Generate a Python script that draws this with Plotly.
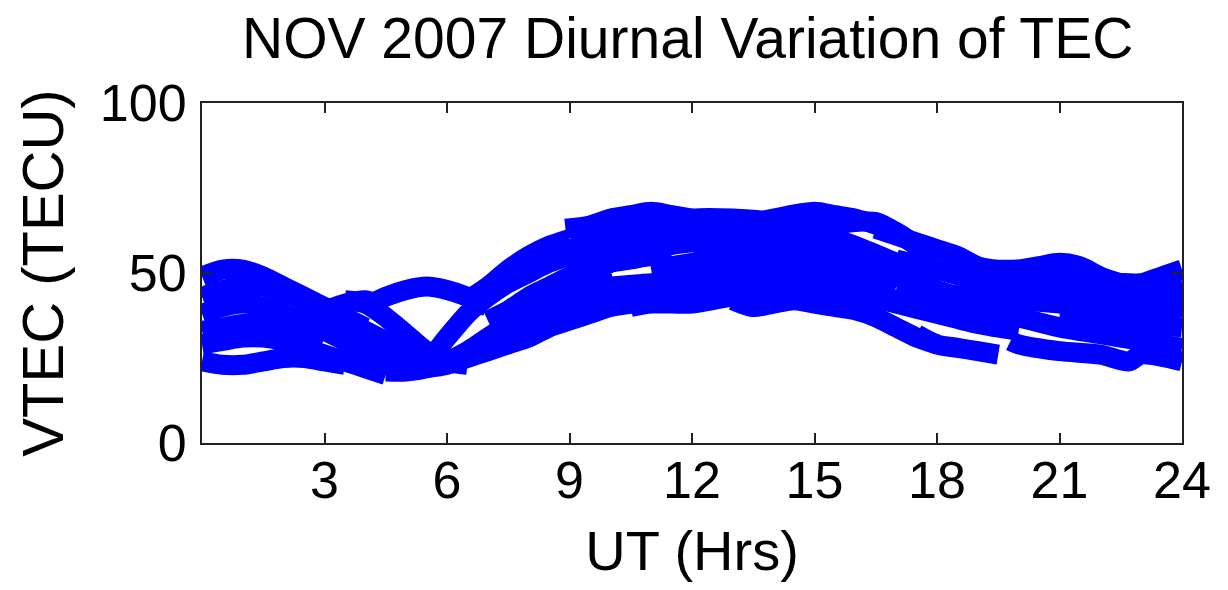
import plotly.graph_objects as go

# ---- data: satellite passes (UT hours, VTEC in TECU) ----
p01_h = [0, 0.5, 1, 1.5, 2, 2.5, 3, 3.5, 4]
p01_v = [49, 51, 51, 49, 46, 43, 40, 37, 34]
p02_h = [0, 0.5, 1, 1.5, 2, 2.5, 3, 3.5, 4, 4.5, 5, 5.5]
p02_v = [43, 45, 46, 46, 44, 42, 39, 36, 33, 30, 27, 24]
p03_h = [0, 0.5, 1, 1.5, 2, 2.5, 3, 3.5, 4, 4.5, 5]
p03_v = [38, 40, 41, 40, 38, 36, 33, 30, 27, 24, 21]
p04_h = [0, 0.5, 1, 1.5, 2, 2.5, 3, 3.5, 4, 4.5]
p04_v = [29, 30, 31, 31, 30, 28, 26, 24, 22, 20]
p05_h = [0, 0.5, 1, 1.5, 2, 2.5, 3, 3.5]
p05_v = [24, 23, 23, 24, 25, 25, 24, 23]
p06_h = [1.5, 2, 2.5, 3, 3.5, 4, 4.5]
p06_v = [31, 34, 37, 39, 41, 42, 40]
p07_h = [3.5, 4, 4.5, 5, 5.5, 6, 6.5]
p07_v = [42, 41, 37, 32, 27, 24, 23]
p08_h = [4, 4.5, 5, 5.5, 6, 6.5, 7]
p08_v = [40, 43, 45, 46, 45, 43, 40]
p09_h = [5, 5.5, 6, 6.5, 7, 7.5, 8, 8.5, 9, 9.5, 10]
p09_v = [21, 24, 31, 38, 43, 47, 50, 53, 55, 56, 57]
p10_h = [4.5, 5, 5.5, 6, 6.5, 7, 7.5, 8, 8.5, 9, 9.5, 10]
p10_v = [21, 21, 22, 24, 27, 31, 35, 39, 43, 46, 49, 51]
p11_h = [6.5, 7, 7.5, 8, 8.5, 9]
p11_v = [42, 46, 51, 55, 58, 60]
p12_h = [5.5, 6, 6.5, 7, 7.5, 8, 8.5, 9, 9.5, 10, 10.5, 11]
p12_v = [22, 23, 25, 27, 29, 31, 34, 36, 38, 40, 41, 42]
p13_h = [7, 7.5, 8, 8.5, 9, 9.5, 10, 10.5, 11, 11.5]
p13_v = [36, 39, 43, 46, 49, 51, 53, 54, 55, 55]
p14_h = [8.9, 9.5, 10, 10.5, 11, 11.5, 12, 13, 14]
p14_v = [63, 64, 66, 67, 68, 67, 66, 64, 60]
p15_h = [10, 11, 12, 13, 14, 15, 16, 17]
p15_v = [60, 64, 66, 66, 65, 62, 58, 53]
p16_h = [12, 13, 14, 15, 15.5, 16, 17, 17.5]
p16_v = [58, 63, 66, 68, 67, 66, 62, 58]
p17_h = [13, 14, 15, 16, 16.5, 17, 17.5, 18]
p17_v = [55, 60, 63, 65, 65, 62, 58, 54]
p18_h = [9.5, 10, 11, 12, 13, 14, 15]
p18_v = [50, 53, 57, 59, 59, 57, 53]
p19_h = [11, 12, 13, 14, 15, 16, 17, 18, 19]
p19_v = [51, 53, 55, 56, 55, 52, 49, 45, 41]
p20_h = [10.5, 11, 11.5, 12, 12.5, 13, 13.5, 14]
p20_v = [40, 41, 41, 41, 42, 43, 42, 41]
p21_h = [13, 13.5, 14, 14.5, 15, 15.5, 16, 16.5, 17, 17.5, 18]
p21_v = [42, 40, 41, 42, 41, 40, 39, 37, 34, 31, 29]
p22_h = [9, 10, 11, 12, 13, 14, 15, 16, 17]
p22_v = [44, 46, 47, 48, 48, 48, 47, 45, 42]
p23_h = [11, 12, 13, 14, 15, 16, 17]
p23_v = [46, 49, 51, 52, 51, 49, 46]
p24_h = [16.5, 17, 17.5, 18, 18.5, 19, 19.5, 20]
p24_v = [63, 61, 59, 57, 55, 52, 51, 51]
p25_h = [19.5, 20, 20.5, 21, 21.5, 22, 22.5]
p25_v = [50, 51, 52, 53, 52, 49, 47]
p26_h = [22, 22.5, 23, 23.5, 24]
p26_v = [46, 47, 47, 49, 51]
p27_h = [17, 18, 19, 20, 21, 22, 23, 24]
p27_v = [45, 44, 43, 42, 41, 40, 40, 40]
p28_h = [17.5, 18, 18.5, 19, 19.5]
p28_v = [32, 29, 28, 27, 26]
p29_h = [19.8, 20, 21, 22, 22.7, 23, 24]
p29_v = [30, 29, 27, 26, 24, 26, 24]
p30_h = [18, 19, 20, 21, 22, 23, 24]
p30_v = [44, 40, 37, 34, 32, 30, 28]
p31_h = [20, 21, 22, 23, 24]
p31_v = [45, 44, 43, 43, 45]
p32_h = [21, 22, 23, 24]
p32_v = [37, 36, 35, 34]
p33_h = [16, 17, 18, 19, 20]
p33_v = [44, 41, 38, 35, 33]
p34_h = [9, 10, 11, 12, 13, 14, 15, 16, 17]
p34_v = [52, 56, 60, 62, 62, 61, 59, 56, 52]
p35_h = [10, 11, 12, 13, 14, 15, 16]
p35_v = [42, 44, 45, 45, 45, 44, 43]
p36_h = [17, 18, 19, 20, 21]
p36_v = [54, 51, 48, 47, 48]
p37_h = [19, 20, 21, 22, 23, 24]
p37_v = [48, 49, 49, 48, 46, 47]
p38_h = [7.5, 8, 8.5, 9, 9.5, 10, 10.5]
p38_v = [33, 35, 37, 40, 42, 44, 45]
p39_h = [0, 0.5, 1, 1.5, 2, 2.5, 3]
p39_v = [33, 34, 35, 35, 34, 33, 31]
p40_h = [9, 9.5, 10, 10.5, 11, 11.5, 12]
p40_v = [57, 59, 61, 63, 63, 63, 62]

passes = [
    (p01_h, p01_v), (p02_h, p02_v), (p03_h, p03_v), (p04_h, p04_v), (p05_h, p05_v),
    (p06_h, p06_v), (p07_h, p07_v), (p08_h, p08_v), (p09_h, p09_v), (p10_h, p10_v),
    (p11_h, p11_v), (p12_h, p12_v), (p13_h, p13_v), (p14_h, p14_v), (p15_h, p15_v),
    (p16_h, p16_v), (p17_h, p17_v), (p18_h, p18_v), (p19_h, p19_v), (p20_h, p20_v),
    (p21_h, p21_v), (p22_h, p22_v), (p23_h, p23_v), (p24_h, p24_v), (p25_h, p25_v),
    (p26_h, p26_v), (p27_h, p27_v), (p28_h, p28_v), (p29_h, p29_v), (p30_h, p30_v),
    (p31_h, p31_v), (p32_h, p32_v), (p33_h, p33_v), (p34_h, p34_v), (p35_h, p35_v),
    (p36_h, p36_v), (p37_h, p37_v), (p38_h, p38_v), (p39_h, p39_v), (p40_h, p40_v),
]

x_ticks = [3, 6, 9, 12, 15, 18, 21, 24]
y_ticks = [0, 50, 100]

FONT = "Liberation Sans, Arial, Helvetica, sans-serif"

fig = go.Figure()
for h, v in passes:
    fig.add_trace(go.Scatter(
        x=h, y=v, mode="lines",
        line=dict(color="#0000FF", width=20, shape="spline", smoothing=0.8),
        hoverinfo="skip", showlegend=False,
    ))

fig.update_layout(
    width=1228, height=590,
    margin=dict(l=202, r=46, t=103, b=147),
    paper_bgcolor="white", plot_bgcolor="white",
    font=dict(family=FONT, color="black", size=52),
    title=dict(text="NOV 2007 Diurnal Variation of TEC", x=0.560, xanchor="center",
               y=1 - 38 / 590, yanchor="middle", yref="container",
               font=dict(family=FONT, size=57, color="black")),
    showlegend=False,
)
fig.update_xaxes(
    range=[0, 24], tickvals=x_ticks, ticktext=[str(t) for t in x_ticks],
    showgrid=False, zeroline=False, automargin=False,
    showline=True, linecolor="#222222", linewidth=2, mirror="ticks",
    ticks="inside", ticklen=10, tickwidth=1.5, tickcolor="#222222",
    ticklabelstandoff=-9,
    tickfont=dict(family=FONT, size=52, color="black"),
    title=dict(text="UT (Hrs)", font=dict(family=FONT, size=56, color="black"), standoff=22),
)
fig.update_yaxes(
    range=[0, 100], tickvals=y_ticks, ticktext=[str(t) for t in y_ticks],
    showgrid=False, zeroline=False, automargin=False,
    showline=True, linecolor="#222222", linewidth=2, mirror="ticks",
    ticks="inside", ticklen=10, tickwidth=1.5, tickcolor="#222222",
    ticklabelstandoff=3,
    tickfont=dict(family=FONT, size=52, color="black"),
    title=dict(text="VTEC (TECU)", font=dict(family=FONT, size=58, color="black"), standoff=18),
)

fig.write_html("out.html", config={"displayModeBar": False},
               post_script="document.body.style.margin='0';")
